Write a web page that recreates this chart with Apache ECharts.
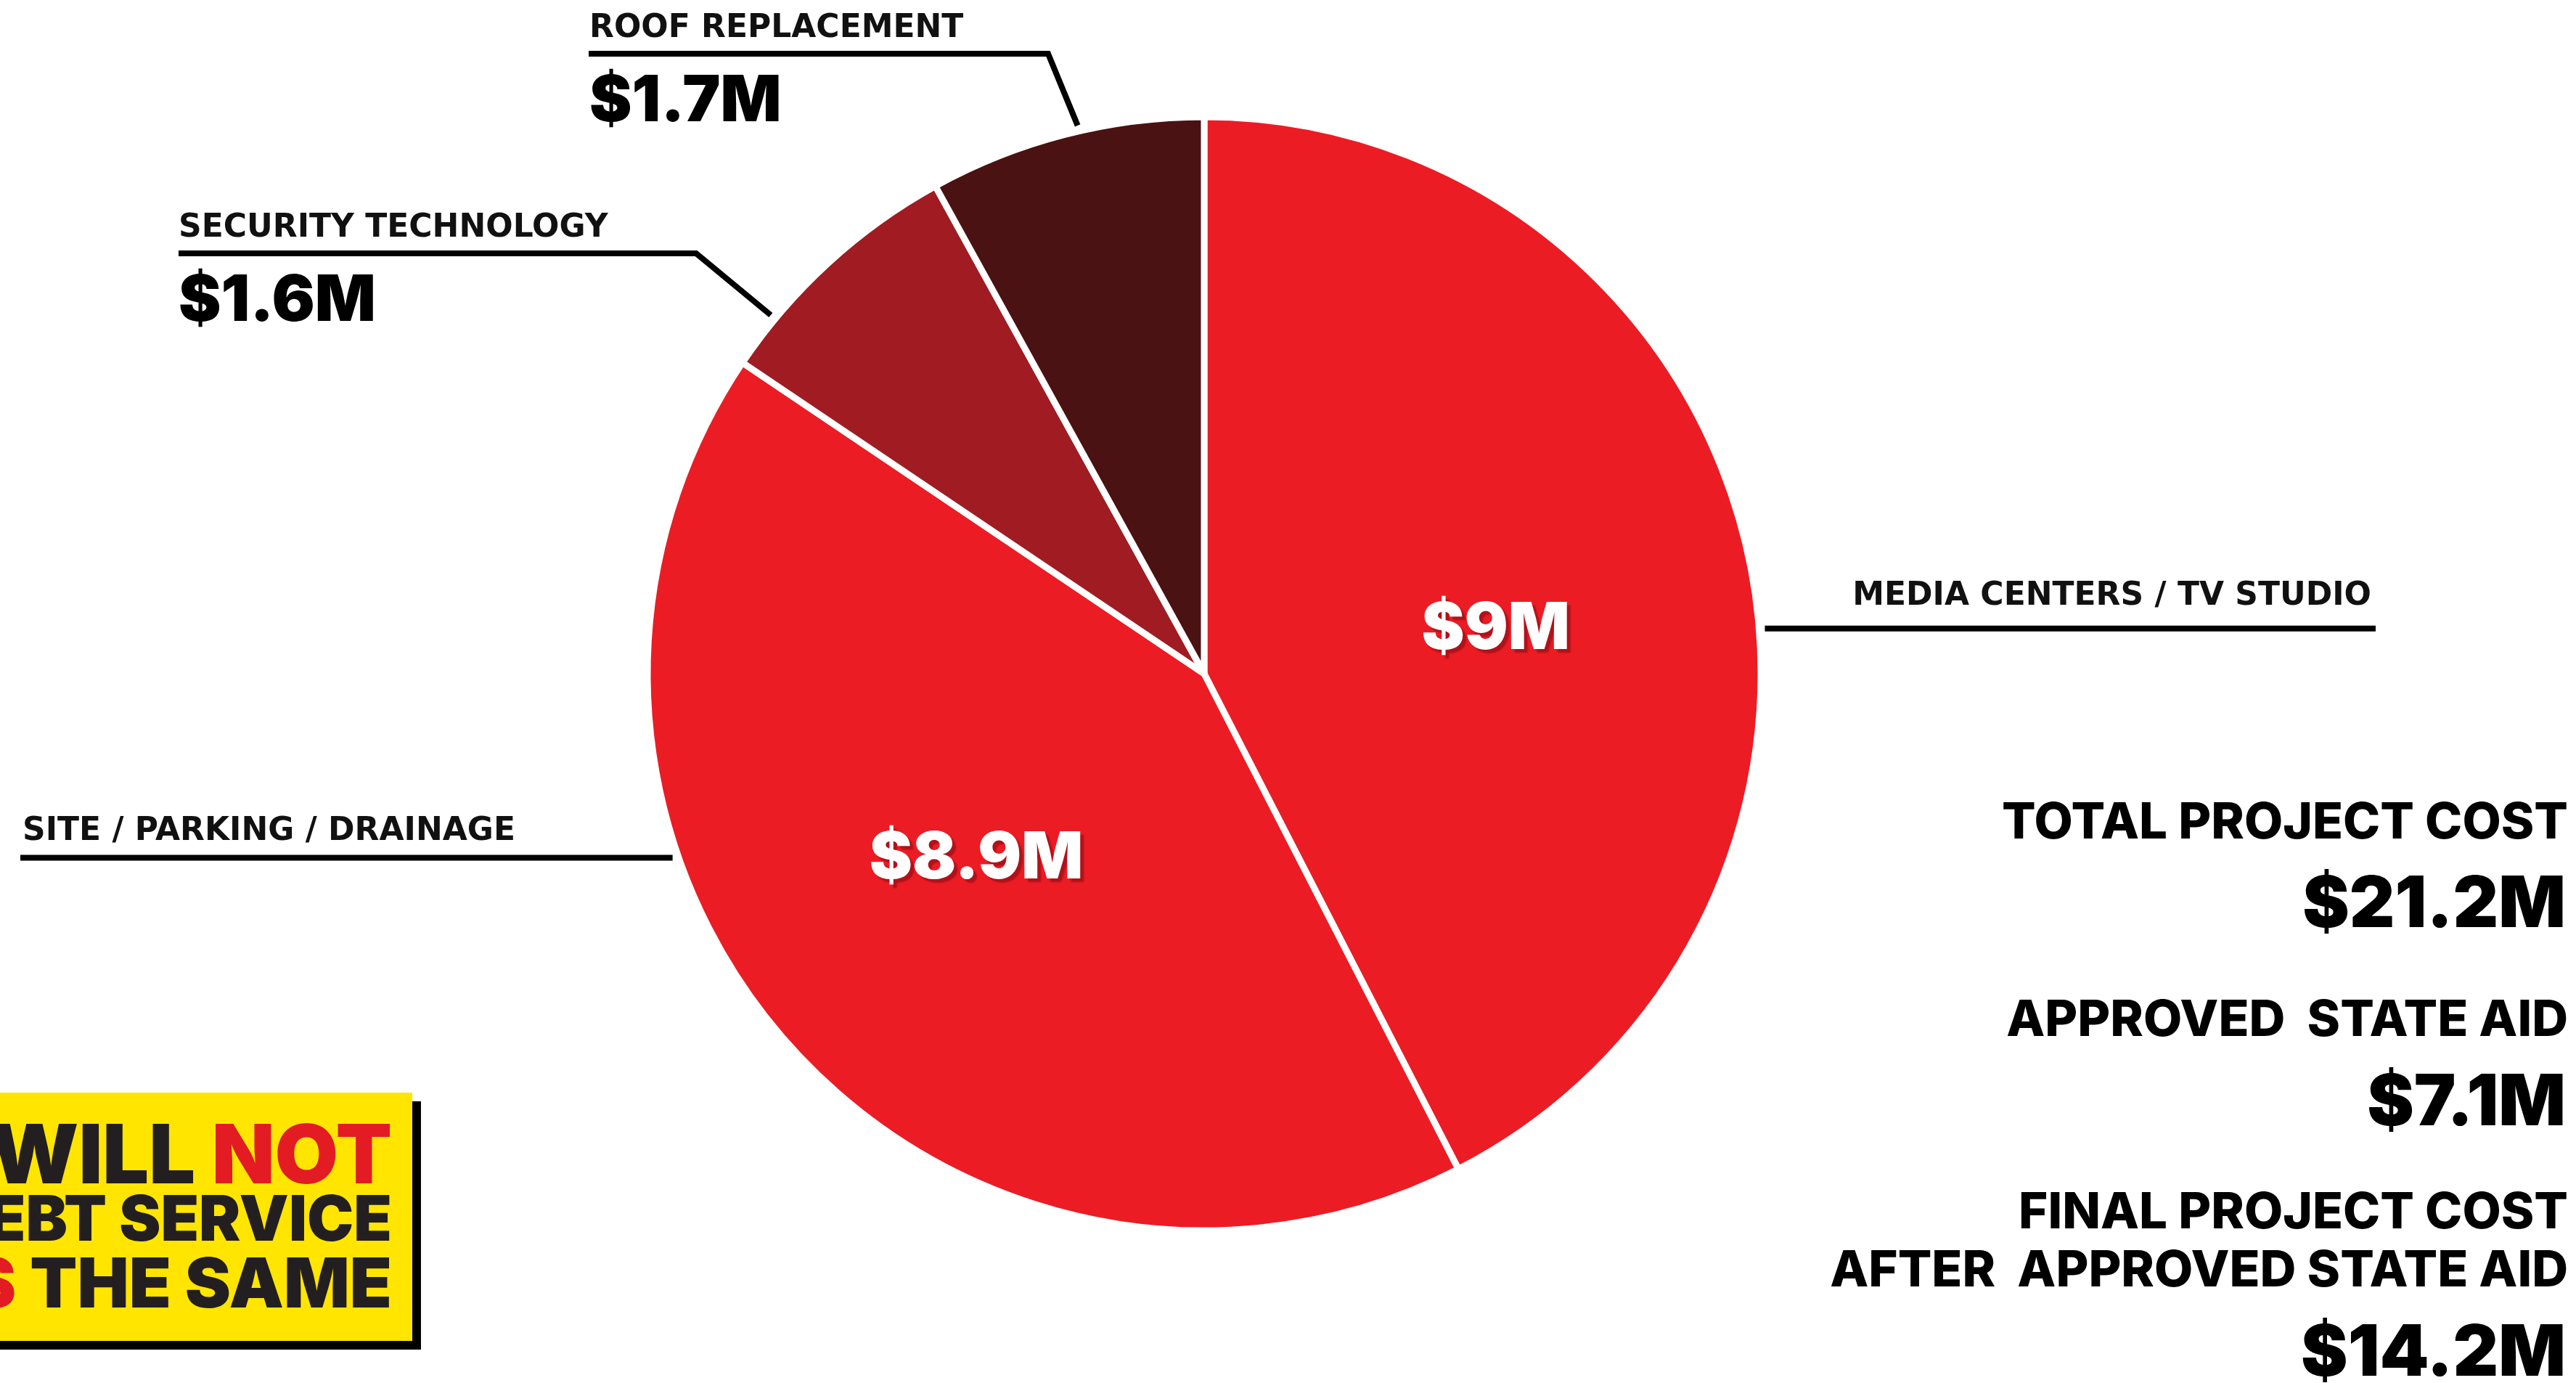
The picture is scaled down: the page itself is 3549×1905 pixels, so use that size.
<!DOCTYPE html>
<html>
<head>
<meta charset="utf-8">
<style>
  html, body { margin: 0; padding: 0; background: #ffffff; }
  #chart { width: 3549px; height: 1905px; }
</style>
<script src="https://cdn.jsdelivr.net/npm/echarts@6/dist/echarts.min.js"></script>
</head>
<body>
<div id="chart"></div>
<script>
// ---------- data ----------
const categories = ['MEDIA CENTERS / TV STUDIO', 'SITE / PARKING / DRAINAGE', 'SECURITY TECHNOLOGY', 'ROOF REPLACEMENT'];
const values = [9, 8.9, 1.6, 1.7];            // $ millions
const sliceColors = ['#EC1C24', '#EC1C24', '#A01C22', '#4A1212'];
const valueInside = [true, true, false, false]; // value shown inside slice vs. in callout

const summaryLabels = [['TOTAL PROJECT COST'], ['APPROVED  STATE AID'], ['FINAL PROJECT COST', 'AFTER  APPROVED STATE AID']];
const summaryValues = [21.2, 7.1, 14.2];

const calloutLines = ['WILL {r|NOT}', 'EBT SERVICE', '{r|S} THE SAME'];

function money(v) { return '$' + v + 'M'; }

// ---------- layout (not data) ----------
const CX = 1659, CY = 928, R = 767;
// callout geometry per category: anchor angle (deg, clockwise from 12 o'clock)
const callout = [
  { deg: 85.4,  lineY: null, elbowX: null, endX: 3273, textX: 3267, align: 'right', nameDy: 44 },
  { deg: 250.9, lineY: null, elbowX: null, endX: 28,   textX: 31,   align: 'left',  nameDy: 36 },
  { deg: 309.6, lineY: 349,  elbowX: 959,  endX: 246,  textX: 246,  align: 'left',  nameDy: 34 },
  { deg: 347.0, lineY: 74,   elbowX: 1444, endX: 811,  textX: 812,  align: 'left',  nameDy: 34 }
];
const insideOffset = [[26, 30], [-25, -1], [0, 0], [0, 0]];
const NAME_LH = 50, VALUE_LH = 152;

function polar(deg, r) {
  const a = deg * Math.PI / 180;
  return [CX + r * Math.sin(a), CY - r * Math.cos(a)];
}

const chart = echarts.init(document.getElementById('chart'), null, { renderer: 'canvas' });

const sliceData = categories.map((name, i) => ({
  name: name,
  value: values[i],
  itemStyle: { color: sliceColors[i] },
  label: { show: valueInside[i], offset: insideOffset[i] }
}));

const calloutData = categories.map((name, i) => ({ name: name, value: values[i] }));

const rightX = 3538;
const summaryGraphics = [];
const labelYs = [[1134], [1406], [1671, 1751]];
const valueYs = [1248, 1521, 1866];
summaryLabels.forEach((lines, k) => {
  lines.forEach((t, j) => {
    summaryGraphics.push({
      type: 'text',
      style: {
        text: t, x: rightX, y: labelYs[k][j],
        textAlign: 'right', textVerticalAlign: 'middle',
        fontFamily: 'Inter', fontWeight: 800, fontSize: 69, fill: '#000'
      }
    });
  });
  summaryGraphics.push({
    type: 'text',
    style: {
      text: money(summaryValues[k]), x: rightX - 3, y: valueYs[k],
      textAlign: 'right', textVerticalAlign: 'middle',
      fontFamily: 'Inter', fontWeight: 900, fontSize: 97, fill: '#000'
    }
  });
});

const redTok = { fontFamily: 'Inter', fontWeight: 900, fill: '#E31B23',
  textShadowColor: '#1a1a1a', textShadowOffsetX: 4, textShadowOffsetY: 4, textShadowBlur: 0 };
const calloutSizes = [113, 86, 95];
const calloutYs = [1596, 1683, 1772];
const calloutGraphics = [
  { type: 'rect', shape: { x: -20, y: 1517, width: 600, height: 342 }, style: { fill: '#000' } },
  { type: 'rect', shape: { x: -20, y: 1505, width: 588, height: 342 }, style: { fill: '#FFE500' } }
];
calloutLines.forEach((t, i) => {
  calloutGraphics.push({
    type: 'text',
    style: {
      text: t, x: 540, y: calloutYs[i],
      textAlign: 'right', textVerticalAlign: 'middle',
      fontFamily: 'Inter', fontWeight: 900, fontSize: calloutSizes[i], fill: '#231F20',
      rich: { r: Object.assign({ fontSize: calloutSizes[i] }, redTok) }
    }
  });
});

const option = {
  backgroundColor: '#ffffff',
  animation: false,
  series: [
    {
      type: 'pie',
      center: [CX, CY],
      radius: R,
      startAngle: 90,
      clockwise: true,
      avoidLabelOverlap: false,
      silent: true,
      itemStyle: { borderColor: '#ffffff', borderWidth: 9 },
      label: {
        position: 'inside',
        formatter: p => money(p.value),
        color: '#ffffff',
        fontFamily: 'Inter', fontWeight: 900, fontSize: 89,
        textShadowColor: '#B0121A', textShadowOffsetX: 5, textShadowOffsetY: 5, textShadowBlur: 2
      },
      labelLine: { show: false },
      emphasis: { disabled: true },
      data: sliceData,
      z: 2
    },
    {
      type: 'pie',
      center: [CX, CY],
      radius: R,
      startAngle: 90,
      clockwise: true,
      avoidLabelOverlap: false,
      silent: true,
      itemStyle: { color: 'rgba(0,0,0,0)', borderWidth: 0 },
      label: {
        position: 'outside',
        formatter: p => valueInside[p.dataIndex] ? '{n|' + p.name + '}' : '{n|' + p.name + '}\n{v|' + money(p.value) + '}',
        rich: {
          n: { fontFamily: 'DejaVu Sans', fontWeight: 'bold', fontSize: 44, lineHeight: NAME_LH, color: '#111111' },
          v: { fontFamily: 'Inter', fontWeight: 900, fontSize: 88, lineHeight: VALUE_LH, color: '#000000' }
        }
      },
      labelLine: { show: true, smooth: false, length: 10, length2: 10, lineStyle: { color: '#000000', width: 8, cap: 'butt', join: 'miter' } },
      labelLayout: function (params) {
        const c = callout[params.dataIndex];
        const s = polar(c.deg, R + 8);
        const ly = c.lineY == null ? s[1] : c.lineY;
        const ex = c.elbowX == null ? (s[0] + c.endX) / 2 : c.elbowX;
        return {
          x: c.textX,
          y: ly - c.nameDy - NAME_LH / 2,
          align: c.align,
          verticalAlign: 'top',
          labelLinePoints: [s, [ex, ly], [c.endX, ly]]
        };
      },
      emphasis: { disabled: true },
      data: calloutData,
      z: 3
    }
  ],
  graphic: summaryGraphics.concat(calloutGraphics)
};

chart.setOption(option);
</script>
</body>
</html>
